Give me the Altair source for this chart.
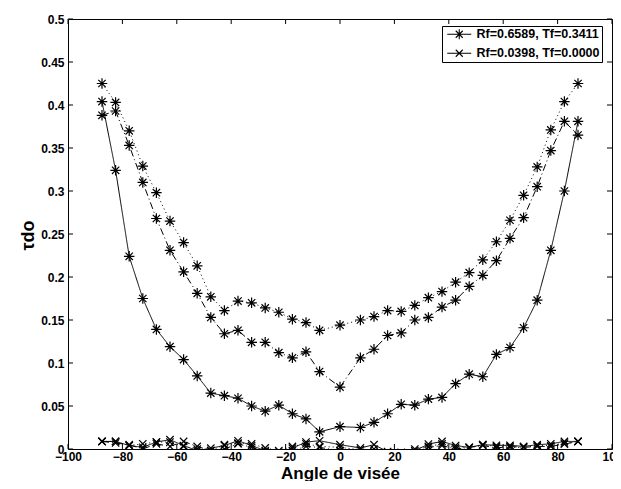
import altair as alt
import pandas as pd

# ---- data ----
angles = [-87.5, -82.5, -77.5, -72.5, -67.5, -62.5, -57.5, -52.5, -47.5, -42.5,
          -37.5, -32.5, -27.5, -22.5, -17.5, -12.5, -7.5, 0,
          7.5, 12.5, 17.5, 22.5, 27.5, 32.5, 37.5, 42.5, 47.5, 52.5,
          57.5, 62.5, 67.5, 72.5, 77.5, 82.5, 87.5]

materials = ["Rf=0.6589, Tf=0.3411", "Rf=0.0398, Tf=0.0000"]

# Rf=0.6589 (asterisk markers)
ast_solid = [0.404, 0.324, 0.224, 0.175, 0.139, 0.119, 0.104, 0.085, 0.065, 0.062,
             0.059, 0.050, 0.044, 0.051, 0.041, 0.035, 0.020, 0.026,
             0.025, 0.031, 0.041, 0.052, 0.051, 0.058, 0.060, 0.076, 0.087, 0.084,
             0.110, 0.118, 0.141, 0.173, 0.231, 0.300, 0.381]
ast_dashdot = [0.388, 0.393, 0.353, 0.310, 0.268, 0.231, 0.206, 0.181, 0.153, 0.134,
               0.138, 0.124, 0.124, 0.112, 0.106, 0.113, 0.090, 0.072,
               0.106, 0.116, 0.132, 0.135, 0.150, 0.153, 0.165, 0.173, 0.189, 0.202,
               0.219, 0.245, 0.269, 0.305, 0.347, 0.381, 0.365]
ast_dotted = [0.425, 0.403, 0.370, 0.329, 0.298, 0.265, 0.240, 0.213, 0.177, 0.161,
              0.172, 0.170, 0.164, 0.159, 0.151, 0.147, 0.138, 0.144,
              0.150, 0.154, 0.161, 0.160, 0.167, 0.176, 0.183, 0.194, 0.205, 0.220,
              0.241, 0.266, 0.295, 0.328, 0.371, 0.404, 0.425]

# Rf=0.0398 (x markers), hugging zero
x_solid = [0.0088, 0.0088, 0.004, 0.002, 0.0081, 0.0108, 0.004, -0.002, 0.001, 0.004,
           0.0096, 0.004, -0.002, -0.004, 0.001, 0.0081, 0.0096, 0.005,
           0.0012, 0.005, -0.003, -0.005, -0.002, 0.0057, 0.0088, 0.004, 0.0019, 0.005,
           0.0043, 0.0043, 0.003, 0.005, 0.006, 0.0088, 0.0088]
x_dashdot = [0.0088, 0.0070, 0.005, 0.0, 0.006, 0.003, 0.0088, 0.003, -0.002, 0.0,
             0.006, 0.0019, -0.003, -0.006, -0.002, 0.003, 0.0019, -0.002,
             -0.004, 0.0, -0.006, -0.008, -0.004, 0.0019, 0.004, 0.0, 0.0019, 0.004,
             0.0012, 0.003, 0.0019, 0.003, 0.003, 0.0057, 0.0088]
x_dotted = [0.0088, 0.0088, 0.004, 0.006, 0.0081, 0.0081, 0.003, 0.0, -0.002, 0.005,
            0.007, 0.006, 0.0012, -0.002, 0.003, 0.006, 0.003, 0.002,
            -0.001, -0.003, -0.006, -0.004, 0.0, 0.003, 0.006, 0.0019, 0.0012, 0.005,
            0.003, 0.0019, 0.0019, 0.0043, 0.004, 0.007, 0.0088]

x_ticks = [-100, -80, -60, -40, -20, 0, 20, 40, 60, 80, 100]
y_ticks = [0, 0.05, 0.1, 0.15, 0.2, 0.25, 0.3, 0.35, 0.4, 0.45, 0.5]

series = [
    ("a_solid", materials[0], "solid", ast_solid),
    ("a_dashdot", materials[0], "dashdot", ast_dashdot),
    ("a_dotted", materials[0], "dotted", ast_dotted),
    ("x_solid", materials[1], "solid", x_solid),
    ("x_dashdot", materials[1], "dashdot", x_dashdot),
    ("x_dotted", materials[1], "dotted", x_dotted),
]
rows = []
for name, mat, style, vals in series:
    assert len(vals) == len(angles)
    for a, v in zip(angles, vals):
        rows.append({"angle": a, "value": v, "series": name, "mat": mat, "style": style})
df = pd.DataFrame(rows)
xt = pd.DataFrame({"angle": x_ticks})
yt = pd.DataFrame({"value": y_ticks})

W, H = 544, 430
FONT = "Liberation Sans"

ASTERISK = "M0,-1L0,1M-1,0L1,0M-0.7,-0.7L0.7,0.7M-0.7,0.7L0.7,-0.7"
XMARK = "M-0.7,-0.7L0.7,0.7M-0.7,0.7L0.7,-0.7"
LEG_AST = "M-0.6,0L4.2,0M1.8,-1L1.8,1M0.8,0L2.8,0M1.1,-0.7L2.5,0.7M1.1,0.7L2.5,-0.7"
LEG_X = "M-0.6,0L4.2,0M1.1,-0.7L2.5,0.7M1.1,0.7L2.5,-0.7"

xscale = alt.Scale(domain=[-100, 100], nice=False, zero=False)
yscale = alt.Scale(domain=[0, 0.5], nice=False, zero=False)

xenc = alt.X("angle:Q", scale=xscale,
             axis=alt.Axis(values=x_ticks, tickSize=0, domain=False, grid=False,
                           labelPadding=2, labelFlush=False, labelOverlap=False,
                           title="Angle de visée", titleY=29, titleBaseline="alphabetic",
                           titleFontSize=17))
yenc = alt.Y("value:Q", scale=yscale,
             axis=alt.Axis(values=y_ticks, format="~g", tickSize=0, domain=False, grid=False,
                           labelPadding=4, labelFlush=False, labelOverlap=False,
                           title="τdo", titleAngle=270, titleX=-40, titleY=216,
                           titleBaseline="middle", titleAlign="center", titleFontSize=18))

lines = alt.Chart(df).mark_line(clip=True, color="black", strokeWidth=1).encode(
    x=xenc, y=yenc, detail="series:N",
    strokeDash=alt.StrokeDash("style:N", legend=None,
                              scale=alt.Scale(domain=["solid", "dashdot", "dotted"],
                                              range=[[1, 0], [7, 3, 1, 3], [1, 3]])),
)
points = alt.Chart(df).mark_point(clip=True, filled=False, color="black",
                                  strokeWidth=1.2, size=110, opacity=1).encode(
    x=alt.X("angle:Q", scale=xscale), y=alt.Y("value:Q", scale=yscale),
    shape=alt.Shape("mat:N", legend=None,
                    scale=alt.Scale(domain=materials, range=[ASTERISK, XMARK])),
)
legend_layer = alt.Chart(df).mark_point(filled=False, color="black", opacity=0).encode(
    x=alt.X("angle:Q", scale=xscale), y=alt.Y("value:Q", scale=yscale),
    shape=alt.Shape("mat:N",
                    scale=alt.Scale(domain=materials, range=[LEG_AST, LEG_X]),
                    legend=alt.Legend(title=None, orient="none", legendX=374, legendY=7,
                                      padding=2, strokeColor="black", fillColor="white",
                                      symbolSize=100, symbolOpacity=1,
                                      symbolStrokeColor="black", symbolStrokeWidth=1.1,
                                      symbolFillColor="transparent",
                                      labelFont=FONT, labelFontSize=12.5,
                                      labelFontWeight="bold", labelColor="black",
                                      labelOffset=20, labelLimit=400, rowPadding=5)),
)

tick_b = alt.Chart(xt).mark_rule(color="black", strokeWidth=1).encode(
    x=alt.X("angle:Q", scale=xscale), y=alt.value(H), y2=alt.value(H - 5))
tick_t = alt.Chart(xt).mark_rule(color="black", strokeWidth=1).encode(
    x=alt.X("angle:Q", scale=xscale), y=alt.value(0), y2=alt.value(5))
tick_l = alt.Chart(yt).mark_rule(color="black", strokeWidth=1).encode(
    y=alt.Y("value:Q", scale=yscale), x=alt.value(0), x2=alt.value(5))
tick_r = alt.Chart(yt).mark_rule(color="black", strokeWidth=1).encode(
    y=alt.Y("value:Q", scale=yscale), x=alt.value(W), x2=alt.value(W - 5))

chart = alt.layer(lines, points, legend_layer, tick_b, tick_t, tick_l, tick_r).resolve_scale(
    shape="independent"
).properties(
    width=W, height=H,
    padding={"left": 60, "top": 11, "right": 1, "bottom": 32},
    autosize=alt.AutoSizeParams(type="none"),
    background="white",
).configure_view(
    stroke="black", strokeWidth=1
).configure_axis(
    labelFont=FONT, labelFontSize=12, labelFontWeight="bold", labelColor="black",
    titleFont=FONT, titleFontWeight="bold", titleColor="black",
)

chart.save("out.html", embed_options={"renderer": "svg", "actions": False})
